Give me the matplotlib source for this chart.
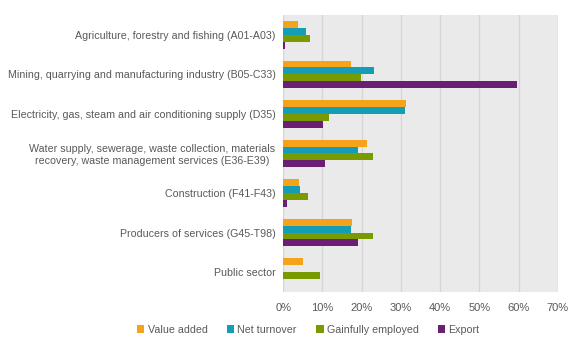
import matplotlib.pyplot as plt
import numpy as np

categories = ["Agriculture, forestry and fishing (A01-A03)",
              "Mining, quarrying and manufacturing industry (B05-C33)",
              "Electricity, gas, steam and air conditioning supply (D35)",
              "Water supply, sewerage, waste collection, materials\nrecovery, waste management services (E36-E39)",
              "Construction (F41-F43)",
              "Producers of services (G45-T98)",
              "Public sector"]

series = ["Value added", "Net turnover", "Gainfully employed", "Export"]
value_added = [3.7, 17.2, 31.2, 21.3, 4.0, 17.5, 5.0]
net_turnover = [5.8, 23.1, 31.0, 19.0, 4.2, 17.2, np.nan]
gainfully_employed = [6.8, 19.8, 11.6, 22.8, 6.3, 22.8, 9.3]
export = [0.4, 59.5, 10.1, 10.6, 0.9, 19.0, np.nan]

colors = ["#F5A31A", "#139EB5", "#7A9A01", "#6B1F73"]
text_color = "#595959"

plt.rcParams['font.family'] = ['Liberation Sans', 'DejaVu Sans']
fs = 7.7

fig = plt.figure(figsize=(5.84, 3.5), dpi=100)
ax = fig.add_axes([0.485, 0.166, 0.47, 0.791])
ax.set_facecolor("#EAEAEA")

y = np.arange(len(categories))
h = 0.175
for i, (name, vals) in enumerate(zip(series, [value_added, net_turnover, gainfully_employed, export])):
    ax.barh(y + (i - 1.5) * h, vals, height=h, color=colors[i], label=name, zorder=3)

ax.set_xlim(0, 70)
ax.set_ylim(len(categories) - 0.5, -0.5)
ax.set_xticks(np.arange(0, 71, 10))
ax.set_xticklabels(["%d%%" % v for v in range(0, 71, 10)])
ax.set_yticks(y)
ax.set_yticklabels(categories)
for lbl in ax.get_yticklabels():
    lbl.set_multialignment("center")
ax.grid(axis="x", color="#D6D6D6", linewidth=1, zorder=0)
for s in ax.spines.values():
    s.set_visible(False)
ax.tick_params(axis="both", length=0, labelsize=fs, colors=text_color)
ax.tick_params(axis="x", labelsize=8, pad=8)
ax.tick_params(axis="y", pad=5.5)

leg = fig.legend(loc="center", bbox_to_anchor=(0.528, 0.058), ncol=4, frameon=False,
                 fontsize=fs, handlelength=0.7, handleheight=0.7, handletextpad=0.3,
                 columnspacing=1.8)
for t in leg.get_texts():
    t.set_color(text_color)

fig.savefig("out.png", dpi=100)
